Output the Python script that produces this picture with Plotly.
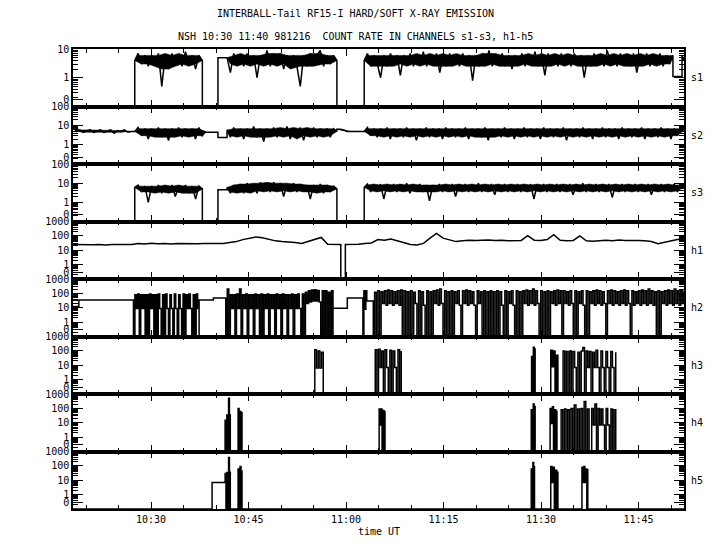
import numpy as np
import plotly.graph_objects as go
from plotly.subplots import make_subplots

# ---------------- data (time = minutes after 10:00 UT) ----------------
CHANNELS = ['s1', 's2', 's3', 'h1', 'h2', 'h3', 'h4', 'h5']
TOP_DECADE = [1, 2, 2, 3, 3, 3, 3, 3]          # y axis top = 10**TOP_DECADE, bottom = "0"
BANDED = [True, True, True, False, False, False, False, False]
LINE_SHAPE = ['linear', 'linear', 'linear', 'linear', 'hv', 'hv', 'hv', 'hv']
X_RANGE = [18, 112]
X_TICKS = [30, 45, 60, 75, 90, 105]
X_TICK_LABELS = ['10:30', '10:45', '11:00', '11:15', '11:30', '11:45']
X_MINOR = [20, 25, 35, 40, 50, 55, 65, 70, 80, 85, 95, 100, 110]

# each segment: (t_start, t_end, count-rate values spread evenly over the segment)
S1 = [
    (18.0, 27.5, [0, 0]),
    (27.5, 37.9, [4, 7, 3, 6, 2.5, 6, 3, 7, 0.5, 6, 2, 7, 3, 6, 2.5, 8, 3, 6, 2, 6, 4]),
    (37.9, 40.3, [0, 0]),
    (40.3, 41.7, [5, 5]),
    (41.7, 58.6, [5, 1.5, 7, 3, 6, 2.5, 7, 3, 6, 1, 6, 3, 9, 2.5, 7, 3, 7, 2, 6, 3, 6, 2.5, 0.5, 6,
                  2.5, 7, 3, 6, 9, 2.5, 6, 3, 6, 4]),
    (58.6, 62.8, [0, 0]),
    (62.8, 110.3, [4, 7, 2.5, 6, 3, 1.0, 6, 2.5, 7, 3, 6, 1.2, 6, 3, 7, 2.5, 6, 3, 8, 2.5,
                   6, 3, 7, 1.5, 6, 2.5, 7, 3, 6, 2.5, 7, 3, 6, 0.8, 6, 2.5, 7, 3, 9, 2.5,
                   6, 3, 7, 2.5, 6, 2, 6, 3, 7, 2.5, 6, 3, 8, 2.5, 6, 1.2, 7, 3, 6, 2.5,
                   7, 3, 6, 2.5, 7, 3, 6, 1.0, 6, 2.5, 7, 3, 6, 2.5, 9, 3, 6, 2.5, 7, 3,
                   6, 2.5, 7, 1.5, 6, 3, 7, 2.5, 6, 3, 7, 2.5, 6, 3, 6]),
    (110.3, 111.7, [1.1, 1.1]),
    (111.7, 112.0, [6, 4]),
]
S2 = [
    (18.0, 27.5, [9, 5, 6, 4.5, 5.5, 6, 4.5, 5, 6, 4.5, 5, 6, 4, 5.5, 5, 6, 4.5, 5, 5]),
    (27.5, 38.4, [5, 8, 3, 7, 2, 7, 3, 8, 2.5, 7, 1.7, 7, 3, 8, 2.5, 7, 3, 7, 2, 8, 3, 5]),
    (38.4, 40.3, [4.5, 4.5]),
    (40.3, 41.7, [2.4, 2.4]),
    (41.7, 58.6, [6, 2.5, 8, 3, 7, 2, 7, 3, 9, 2.5, 7, 1.5, 7, 3, 8, 2.5, 7, 3, 9, 2, 7, 3, 8,
                  1.7, 7, 3, 8, 2.5, 7, 3, 7, 2.5, 7, 5]),
    (58.6, 62.8, [6.5, 6.5, 6, 5, 5, 5, 5, 5, 5]),
    (62.8, 112.0, [5, 8, 3, 7, 2.5, 7, 3, 8, 2, 7, 3, 7, 2.5, 8, 3, 7, 1.7, 7, 3, 8,
                   2.5, 7, 3, 7, 2, 8, 3, 7, 2.5, 7, 3, 8, 2, 7, 3, 7, 2.5, 8, 1.7, 7,
                   3, 7, 2.5, 8, 3, 7, 2, 7, 3, 8, 2.5, 7, 3, 7, 2, 8, 3, 7, 2.5, 7,
                   3, 8, 1.7, 7, 3, 7, 2.5, 8, 3, 7, 2, 7, 3, 8, 2.5, 7, 3, 7, 2, 8,
                   3, 7, 2.5, 7, 3, 8, 2, 7, 3, 7, 2.5, 8, 3, 7, 2, 7, 3, 8, 6]),
]
S3 = [
    (18.0, 27.5, [0, 0]),
    (27.5, 37.9, [6, 8, 3.5, 7, 1.0, 7, 3.5, 8, 3, 7, 4, 8, 2, 7, 3.5, 8, 3, 7, 1.5, 7, 5]),
    (37.9, 40.3, [0, 0]),
    (40.3, 41.7, [4.5, 4.5]),
    (41.7, 58.6, [6, 3, 8, 3.5, 9, 3, 10, 4, 9, 3, 11, 4, 10, 3.5, 11, 4, 10, 2, 9, 4, 10, 3.5,
                  9, 4, 8, 1.5, 8, 3.5, 9, 3, 8, 3.5, 7, 5]),
    (58.6, 62.8, [0, 0]),
    (62.8, 112.0, [6, 9, 3.5, 8, 4, 9, 1.5, 8, 4, 9, 3.5, 8, 4, 10, 3, 8, 4, 9, 3.5, 8,
                   1.2, 8, 4, 9, 3.5, 8, 4, 9, 2, 8, 4, 9, 3.5, 8, 4, 10, 3.5, 8, 4, 9,
                   2.5, 8, 4, 9, 3.5, 8, 4, 9, 3.5, 8, 4, 9, 1.5, 8, 4, 9, 3.5, 8, 4, 9,
                   3.5, 8, 4, 9, 2.5, 8, 4, 10, 3.5, 8, 4, 9, 3.5, 8, 4, 9, 1.8, 8, 4, 9,
                   3.5, 8, 4, 9, 3.5, 8, 4, 9, 2.5, 8, 4, 9, 3.5, 8, 4, 9, 3.5, 8, 6]),
]
H1 = [
    (18.0, 59.2, [25, 24, 26, 24, 25, 23, 25, 24, 26, 25, 30, 27, 31, 28, 30, 27, 29, 28, 30, 28,
                  29, 28, 30, 30, 33, 40, 55, 70, 85, 75, 55, 45, 40, 38, 35, 30, 40, 60, 78, 26,
                  25, 25]),
    (59.2, 59.9, [0, 0]),
    (59.9, 112.0, [25, 25, 26, 30, 32, 55, 50, 60, 45, 30, 25, 23, 30, 70, 150, 70, 50, 40, 45, 50,
                   48, 50, 52, 48, 50, 45, 47, 48, 105, 50, 48, 55, 120, 50, 45, 48, 100, 45, 42, 48,
                   50, 45, 52, 48, 50, 47, 45, 40, 28, 35, 45, 55, 60]),
]
H2 = [
    (18.0, 18.9, [12, 12]),
    (18.9, 27.3, [35, 35]),
    (27.3, 37.4, [0, 80, 9, 90, 0, 80, 9, 80, 0, 80, 0, 90, 9, 80, 0, 80, 0, 90, 9,
                  0, 80, 0, 90, 9, 0, 80, 9, 0, 90, 9, 0, 80, 9, 0, 90, 0, 80, 9, 90, 9,
                  0, 80, 0, 90, 9, 0]),
    (37.4, 39.6, [35, 35]),
    (39.6, 41.5, [47, 47]),
    (41.5, 58.0, [0, 200, 0, 80, 9, 80, 0, 90, 9, 200, 0, 80, 9, 90, 0, 80, 9, 80, 0, 90,
                  9, 80, 0, 90, 0, 80, 9, 90, 0, 80, 9, 80, 0, 90, 9, 80, 0, 90, 9, 80,
                  0, 80, 9, 90, 0, 80, 9, 90, 9, 0, 90, 0, 120, 20, 150, 25, 170, 30, 180, 30,
                  160, 25, 0, 150, 0, 150, 0, 120, 0, 150, 0]),
    (58.0, 60.2, [9.3, 9.3]),
    (60.2, 62.6, [47, 47]),
    (62.6, 63.2, [0, 150, 8, 150, 30]),
    (63.2, 64.2, [30, 30]),
    (64.2, 64.4, [0, 0]),
    (64.4, 112.0, [120, 0, 150, 0, 130, 20, 150, 15, 170, 20, 150, 15, 130, 20, 150, 15, 170, 0, 150, 0,
                   130, 0, 150, 0, 120, 20, 0, 150, 0, 130, 15, 0, 150, 0, 130, 0, 150, 20, 170, 15,
                   200, 20, 0, 150, 0, 130, 0, 150, 0, 130, 20, 150, 15, 0, 150, 20, 170, 15, 150, 20,
                   130, 15, 0, 150, 20, 130, 0, 150, 0, 130, 0, 150, 0, 130, 0, 150, 0, 130, 15, 0,
                   150, 0, 130, 20, 150, 15, 0, 150, 0, 130, 0, 150, 20, 170, 15, 150, 20, 200, 15, 150,
                   20, 0, 150, 0, 130, 0, 150, 0, 130, 20, 150, 15, 170, 20, 150, 0, 150, 20, 130, 15,
                   150, 20, 0, 150, 0, 130, 20, 150, 15, 0, 150, 0, 130, 20, 150, 15, 170, 20, 150, 15,
                   130, 20, 0, 150, 20, 170, 15, 150, 20, 130, 15, 150, 20, 170, 15, 150, 20, 0, 150, 15,
                   130, 20, 150, 15, 170, 20, 150, 15, 200, 20, 150, 15, 130, 0, 150, 0, 130, 20, 150, 15,
                   170, 20, 150, 15, 200, 20, 150, 15, 170, 20, 150]),
]
H3 = [
    (18.0, 55.2, [0, 0]),
    (55.2, 56.5, [120, 6.5, 100, 6.5, 80, 70]),
    (56.5, 64.5, [0, 0]),
    (64.5, 68.5, [120, 0, 130, 7, 100, 0, 120, 7, 0, 110, 0, 100, 7, 0, 120, 0, 100]),
    (68.5, 88.55, [0, 0]),
    (88.55, 89.1, [40, 0, 180, 0, 150]),
    (89.1, 91.5, [0, 0]),
    (91.5, 92.6, [110, 8, 100, 0, 50, 40]),
    (92.6, 93.4, [0, 0]),
    (93.4, 101.5, [100, 0, 90, 0, 100, 0, 90, 7, 0, 80, 0, 100, 170, 0, 100, 7, 90, 0, 80, 7,
                   110, 7, 0, 100, 7, 0, 90, 7, 0, 90, 7, 0, 80]),
    (101.5, 112.0, [0, 0]),
]
H4 = [
    (18.0, 41.4, [0, 0]),
    (41.4, 42.2, [15, 0, 35, 0, 500, 0, 40]),
    (42.2, 43.4, [0, 0]),
    (43.4, 44.0, [100, 0, 60, 0, 55]),
    (44.0, 65.1, [0, 0]),
    (65.1, 66.0, [90, 7, 90, 0, 70, 0, 65]),
    (66.0, 88.5, [0, 0]),
    (88.5, 89.1, [80, 0, 200, 0, 150]),
    (89.1, 91.4, [0, 0]),
    (91.4, 92.45, [100, 9, 130, 0, 80, 0, 70]),
    (92.45, 93.1, [0, 0]),
    (93.1, 97.4, [80, 0, 90, 0, 80, 0, 100, 0, 170, 0, 90, 0, 100, 0, 300, 0, 90, 0]),
    (97.4, 97.8, [0, 0]),
    (97.8, 101.5, [100, 7, 200, 0, 100, 7, 90, 7, 0, 100, 7, 0, 90, 0, 80, 60]),
    (101.5, 112.0, [0, 0]),
]
H5 = [
    (18.0, 39.4, [0, 0]),
    (39.4, 41.4, [7, 7]),
    (41.4, 42.2, [30, 0, 35, 0, 380, 0, 40]),
    (42.2, 43.4, [0, 0]),
    (43.4, 44.0, [60, 0, 90, 0, 50]),
    (44.0, 88.5, [0, 0]),
    (88.5, 89.0, [60, 0, 170, 0, 100]),
    (89.0, 91.5, [0, 0]),
    (91.5, 92.6, [90, 7, 80, 0, 50, 0, 40]),
    (92.6, 96.3, [0, 0]),
    (96.3, 97.2, [80, 7, 90, 7, 60, 0, 60]),
    (97.2, 112.0, [0, 0]),
]
SERIES = [S1, S2, S3, H1, H2, H3, H4, H5]

TITLE_1 = 'INTERBALL-Tail RF15-I HARD/SOFT X-RAY EMISSION'
TITLE_2 = 'NSH 10:30 11:40 981216\u00a0 COUNT RATE IN CHANNELS s1-s3, h1-h5'
X_TITLE = 'time UT'

FLOOR = 0.1   # zero counts are drawn on the bottom ("0") line of the log axis


def expand(segments):
    xs, ys = [], []
    for t0, t1, vals in segments:
        xs.extend(np.linspace(t0, t1, len(vals)))
        ys.extend(vals)
    return np.array(xs), np.maximum(np.array(ys, dtype=float), FLOOR)


def med3(a):
    out = a.copy()
    for k in range(1, len(a) - 1):
        out[k] = np.median(a[k - 1:k + 2])
    return out


def envelopes(segments):
    """Solid core of each noisy segment: between its (median-smoothed) local maxima and minima."""
    polys = []
    for t0, t1, vals in segments:
        if len(vals) < 3:
            continue
        t = np.linspace(t0, t1, len(vals))
        v = np.maximum(np.array(vals, dtype=float), FLOOR)
        n = len(v)
        is_max = np.array([i in (0, n - 1) or (v[i] >= v[i - 1] and v[i] >= v[i + 1])
                           for i in range(n)])
        is_min = np.array([i in (0, n - 1) or (v[i] <= v[i - 1] and v[i] <= v[i + 1])
                           for i in range(n)])
        px = np.concatenate([t[is_max], t[is_min][::-1]])
        py = np.concatenate([med3(v[is_max]), med3(v[is_min])[::-1]])
        polys.append((px, py))
    return polys


FONT = 'DejaVu Sans Mono'
W, H = 720, 550
# page is shown with an 8 px body offset: plot box lands at x 73..684, y 49..509
ML, MR, MT, MB = 65, 44, 41, 49
PLOT_H = H - MT - MB
PH = PLOT_H / 8.0

fig = make_subplots(rows=8, cols=1, shared_xaxes=True, vertical_spacing=0)

for r, (name, segs, top, banded, shape) in enumerate(
        zip(CHANNELS, SERIES, TOP_DECADE, BANDED, LINE_SHAPE), start=1):
    if banded:
        for px, py in envelopes(segs):
            fig.add_trace(go.Scatter(x=px, y=py, mode='lines', fill='toself',
                                     fillcolor='black', line=dict(color='black', width=0.5),
                                     showlegend=False, hoverinfo='skip'), row=r, col=1)
    x, y = expand(segs)
    fig.add_trace(go.Scatter(x=x, y=y, mode='lines',
                             line=dict(color='black', width=1.5, shape=shape),
                             showlegend=False, hoverinfo='skip'), row=r, col=1)
    zero_pos = 10 ** (-1 + 7 * (top + 1) / PH)
    tickvals = [zero_pos] + [10 ** d for d in range(0, top + 1)]
    ticktext = ['0'] + [str(10 ** d) for d in range(0, top + 1)]
    minor_vals = [k * 10.0 ** d for d in range(-1, top) for k in range(2, 10)]
    fig.update_yaxes(type='log', range=[-1, top], tickmode='array', tickvals=tickvals,
                     ticktext=ticktext, ticks='inside', ticklen=10, tickwidth=1,
                     tickcolor='black', showline=True, linecolor='black', linewidth=1.5,
                     mirror='ticks', showgrid=False, zeroline=False,
                     tickfont=dict(family=FONT, size=10, color='black'),
                     minor=dict(tickmode='array', tickvals=minor_vals, ticks='inside',
                                ticklen=5, tickwidth=1, tickcolor='black', showgrid=False),
                     row=r, col=1)
    fig.add_annotation(text=name, xref='paper', yref='paper', x=1.021,
                       y=1 - (r - 0.5) / 8.0, showarrow=False, xanchor='center',
                       yanchor='middle', font=dict(family=FONT, size=10, color='black'))

fig.update_xaxes(range=X_RANGE, tickmode='array', tickvals=X_TICKS, ticktext=X_TICK_LABELS,
                 ticks='inside', ticklen=7, tickwidth=1, tickcolor='black', showline=True,
                 linecolor='black', linewidth=1.5, mirror='ticks', showgrid=False,
                 zeroline=False, tickfont=dict(family=FONT, size=10, color='black'),
                 minor=dict(tickmode='array', tickvals=X_MINOR, ticks='inside', ticklen=4,
                            tickwidth=1, tickcolor='black', showgrid=False))


def page_y(py):
    """paper y for a page pixel row (plot box spans page rows 49..509)"""
    return 1 - (py - 49) / PLOT_H


fig.add_annotation(text=TITLE_1, xref='paper', yref='paper', x=0.462, y=page_y(14),
                   showarrow=False, xanchor='center', yanchor='middle',
                   font=dict(family=FONT, size=10, color='black'))
fig.add_annotation(text=TITLE_2, xref='paper', yref='paper', x=0.462, y=page_y(37),
                   showarrow=False, xanchor='center', yanchor='middle',
                   font=dict(family=FONT, size=10, color='black'))
fig.add_annotation(text=X_TITLE, xref='paper', yref='paper', x=0.5, y=page_y(531),
                   showarrow=False, xanchor='center', yanchor='middle',
                   font=dict(family=FONT, size=10, color='black'))

fig.update_layout(width=W, height=H, margin=dict(l=ML, r=MR, t=MT, b=MB),
                  paper_bgcolor='white', plot_bgcolor='white',
                  font=dict(family=FONT, size=10, color='black'), showlegend=False)

fig.write_html('out.html')
